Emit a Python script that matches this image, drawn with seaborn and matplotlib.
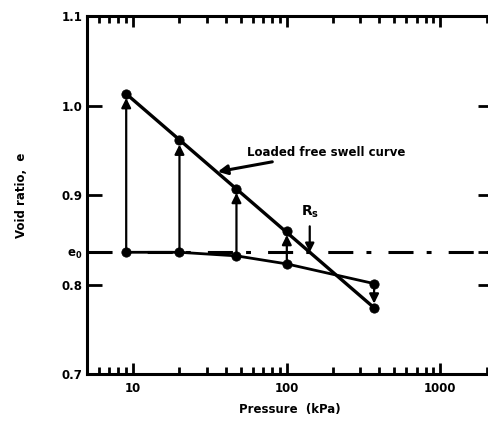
import numpy as np
import pandas as pd
import matplotlib
matplotlib.use('Agg')
import matplotlib.pyplot as plt
import seaborn as sns
from matplotlib.ticker import LogLocator, FixedLocator, NullFormatter, FixedFormatter

# data
pressure = [9, 20, 47, 100, 370]
e_initial = [0.836, 0.836, 0.832, 0.823, 0.801]
e_swell = [1.013, 0.961, 0.907, 0.860, 0.774]
e0 = 0.836
rs_pressure = 141
y_ticks = [0.7, 0.8, e0, 0.9, 1.0, 1.1]
y_ticklabels = ['0.7', '0.8', r'$\mathbf{e_0}$', '0.9', '1.0', '1.1']
x_ticks = [10, 100, 1000]
x_ticklabels = ['10', '100', '1000']

sns.set_style('ticks')
plt.rcParams['font.family'] = ['DejaVu Sans']
plt.rcParams['font.weight'] = 'bold'
plt.rcParams['mathtext.fontset'] = 'dejavusans'
for k in ['axes.edgecolor', 'text.color', 'axes.labelcolor', 'xtick.color', 'ytick.color']:
    plt.rcParams[k] = 'black'

df = pd.DataFrame({'p': pressure, 'e_init': e_initial, 'e_swell': e_swell})

fig = plt.figure(figsize=(4.89, 4.25), dpi=100)
ax = fig.add_axes([87 / 489, 51 / 425, 406 / 489, 358 / 425])

# dash-dot reference line at e0
ax.axhline(e0, color='k', lw=2.2, ls=(0, (8.2, 4.3, 1.6, 5.6)), zorder=1)

# initial (seating) curve and loaded free swell line
sns.lineplot(data=df, x='p', y='e_init', ax=ax, color='k', lw=2.0, zorder=2)
ax.plot([pressure[0], pressure[-1]], [e_swell[0], e_swell[-1]], color='k', lw=2.4, zorder=2)
sns.scatterplot(data=df, x='p', y='e_init', ax=ax, color='k', s=45, zorder=3, edgecolor='k')
sns.scatterplot(data=df, x='p', y='e_swell', ax=ax, color='k', s=45, zorder=3, edgecolor='k')

# swell arrows
for p, a, b in zip(pressure, e_initial, e_swell):
    ax.annotate('', xy=(p, b), xytext=(p, a),
                arrowprops=dict(arrowstyle='-|>', color='k', lw=1.6,
                                mutation_scale=14, shrinkA=0, shrinkB=3))

# Rs marker
ax.annotate('', xy=(rs_pressure, e0), xytext=(rs_pressure, 0.865),
            arrowprops=dict(arrowstyle='-|>', color='k', lw=1.6,
                            mutation_scale=13, shrinkA=0, shrinkB=0))
ax.text(rs_pressure, 0.872, r'$\mathbf{R_s}$', ha='center', va='bottom', fontsize=10)

# label for the swell curve
ax.annotate('Loaded free swell curve', xy=(35.5, 0.926), xytext=(55, 0.948),
            fontsize=8.5, fontweight='bold', va='center', ha='left',
            arrowprops=dict(arrowstyle='-|>', color='k', lw=2.2,
                            mutation_scale=14, shrinkA=0, shrinkB=0))

ax.set_xscale('log')
ax.set_xlim(5, 2200)
ax.set_ylim(0.7, 1.1)

ax.xaxis.set_major_locator(FixedLocator(x_ticks))
ax.xaxis.set_major_formatter(FixedFormatter(x_ticklabels))
ax.xaxis.set_minor_locator(LogLocator(base=10, subs=np.arange(2, 10), numticks=20))
ax.xaxis.set_minor_formatter(NullFormatter())
ax.set_yticks(y_ticks)
ax.set_yticklabels(y_ticklabels)

ax.tick_params(axis='x', which='major', direction='in', top=True, length=8, width=2,
               labelsize=8.5, pad=6)
ax.tick_params(axis='x', which='minor', direction='in', top=True, length=5, width=2)
ax.tick_params(axis='y', which='major', direction='in', right=True, length=11, width=2,
               labelsize=8.5, pad=3)
for lab in ax.get_xticklabels() + ax.get_yticklabels():
    lab.set_fontweight('bold')

for s in ax.spines.values():
    s.set_linewidth(2.2)
    s.set_visible(True)

ax.set_xlabel('Pressure  (kPa)', fontsize=8.5, fontweight='bold')
ax.set_ylabel('Void ratio,  e', fontsize=8.5, fontweight='bold')
ax.xaxis.set_label_coords((290 - 87) / 406, -0.08)
ax.yaxis.set_label_coords(-0.145, 0.5)

fig.savefig('out.png', dpi=100)
